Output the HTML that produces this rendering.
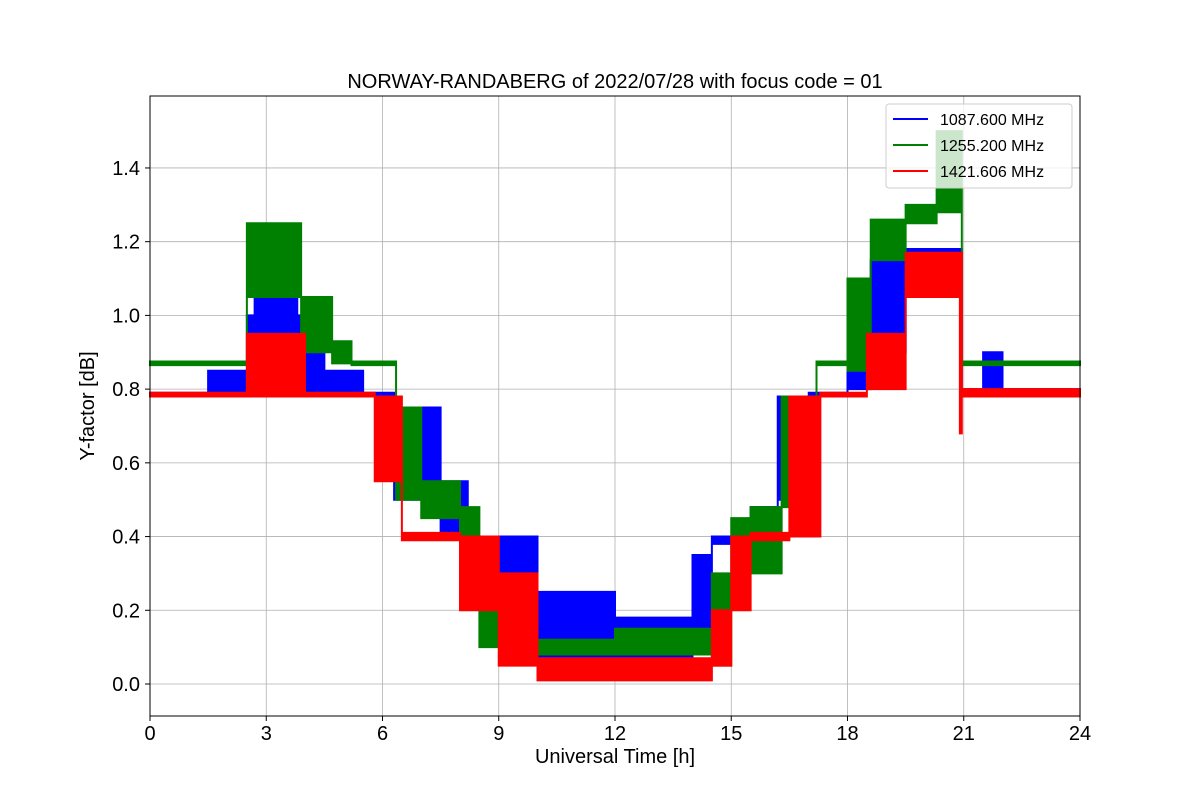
<!DOCTYPE html>
<html><head><meta charset="utf-8"><style>
body{margin:0;background:#fff;}
svg text{font-family:"Liberation Sans","DejaVu Sans",sans-serif;fill:#000;}
</style></head><body>
<svg id="chart" width="1200" height="800" xmlns="http://www.w3.org/2000/svg">
<rect width="1200" height="800" fill="#fff"/>
<g id="grid"></g>
<g id="series"></g>
<rect x="150" y="96" width="930" height="620" fill="none" stroke="#000" stroke-width="1"/>
<g id="ticks"></g>
<text x="615" y="88" font-size="20" text-anchor="middle">NORWAY-RANDABERG of 2022/07/28 with focus code = 01</text>
<text x="615" y="763" font-size="20" text-anchor="middle">Universal Time [h]</text>
<text x="94" y="406" font-size="20" text-anchor="middle" transform="rotate(-90 94 406)">Y-factor [dB]</text>
<g>
<rect x="886" y="104" width="186" height="84" rx="3" fill="#fff" fill-opacity="0.8" stroke="#ccc"/>
<line x1="893" y1="119" x2="928" y2="119" stroke="#0000ff" stroke-width="2"/>
<text x="940" y="125" font-size="16">1087.600 MHz</text>
<line x1="893" y1="145" x2="928" y2="145" stroke="#008000" stroke-width="2"/>
<text x="940" y="151" font-size="16">1255.200 MHz</text>
<line x1="893" y1="171" x2="928" y2="171" stroke="#ff0000" stroke-width="2"/>
<text x="940" y="177" font-size="16">1421.606 MHz</text>
</g>
</svg>
<script>
const xTicks=[0,3,6,9,12,15,18,21,24];
const yTicks=[0.0,0.2,0.4,0.6,0.8,1.0,1.2,1.4];
const blueT=[0,1.5,2.5,2.7,3.8,4.5,5.5,6.3,7.5,8.2,9.0,10.0,12.0,14.0,14.5,15.5,16.2,17.0,18.0,18.6,19.5,20.95,21.5,22.0];
const blueLo=[0.78,0.78,0.78,0.85,0.78,0.78,0.78,0.50,0.40,0.39,0.15,0.05,0.05,0.10,0.38,0.40,0.50,0.78,0.80,0.90,1.10,0.78,0.78,0.78];
const blueHi=[0.79,0.85,1.00,1.15,1.00,0.85,0.79,0.75,0.55,0.40,0.40,0.25,0.18,0.35,0.40,0.48,0.78,0.79,1.00,1.15,1.18,0.80,0.90,0.80];
const greenT=[0,2.5,3.9,4.7,5.2,6.35,7.0,8.0,8.5,9.3,12.0,14.5,15.0,15.5,16.3,17.2,18.0,18.6,19.5,20.3,20.95];
const greenLo=[0.865,1.05,0.90,0.87,0.865,0.50,0.45,0.30,0.10,0.08,0.08,0.05,0.35,0.30,0.48,0.865,0.85,1.15,1.25,1.28,0.865];
const greenHi=[0.875,1.25,1.05,0.93,0.875,0.75,0.55,0.48,0.25,0.12,0.15,0.30,0.45,0.48,0.78,0.875,1.10,1.26,1.30,1.50,0.875];
const redT=[0,2.5,4.0,5.8,6.5,8.0,9.0,10.0,14.5,15.0,15.5,16.5,17.3,18.5,19.5,20.9,20.95];
const redLo=[0.78,0.78,0.78,0.55,0.39,0.20,0.05,0.01,0.05,0.20,0.39,0.40,0.78,0.80,1.05,0.68,0.78];
const redHi=[0.79,0.95,0.79,0.78,0.41,0.40,0.30,0.07,0.20,0.40,0.41,0.78,0.79,0.95,1.17,1.17,0.80];
const END_T=24;
const NS="http://www.w3.org/2000/svg";
const X=h=>150+h*930/24;
const Y=v=>684-v*368.6;
const grid=document.getElementById('grid'),ticks=document.getElementById('ticks'),ser=document.getElementById('series');
function mk(tag,at,par){const e=document.createElementNS(NS,tag);for(const k in at)e.setAttribute(k,at[k]);par.appendChild(e);return e;}
xTicks.forEach(t=>{
 const g=mk('line',{x1:X(t),x2:X(t),y1:96,y2:716,stroke:'#b0b0b0','stroke-width':0.8},grid);
 
 
 const tk=mk('line',{x1:X(t),x2:X(t),y1:716,y2:721,stroke:'#000'},ticks);
 
 
 const tx=mk('text',{x:X(t),y:740,'font-size':20,'text-anchor':'middle'},ticks);tx.textContent=t;
 
 
});
yTicks.forEach(t=>{
 const g=mk('line',{x1:150,x2:1080,y1:Y(t),y2:Y(t),stroke:'#b0b0b0','stroke-width':0.8},grid);
 
 
 const tk=mk('line',{x1:145,x2:150,y1:Y(t),y2:Y(t),stroke:'#000'},ticks);
 
 
 const tx=mk('text',{x:140,y:Y(t)+7,'font-size':20,'text-anchor':'end'},ticks);tx.textContent=t.toFixed(1);
 
 
});
function band(T,lo,hi,col,name){
 const n=T.length;const nx=i=>i+1<n?T[i+1]:END_T;
 let pts=[];
 for(let i=0;i<n;i++){pts.push(X(T[i])+','+Y(hi[i]));pts.push(X(nx(i))+','+Y(hi[i]));}
 for(let i=n-1;i>=0;i--){pts.push(X(nx(i))+','+Y(lo[i]));pts.push(X(T[i])+','+Y(lo[i]));}
 const p=mk('polygon',{points:pts.join(' '),fill:col,stroke:col,'stroke-width':2,'stroke-linejoin':'miter'},ser);
 
 
}
band(blueT,blueLo,blueHi,'#0000ff','series-1087-mhz');
band(greenT,greenLo,greenHi,'#008000','series-1255-mhz');
band(redT,redLo,redHi,'#ff0000','series-1421-mhz');
</script>
</body></html>
